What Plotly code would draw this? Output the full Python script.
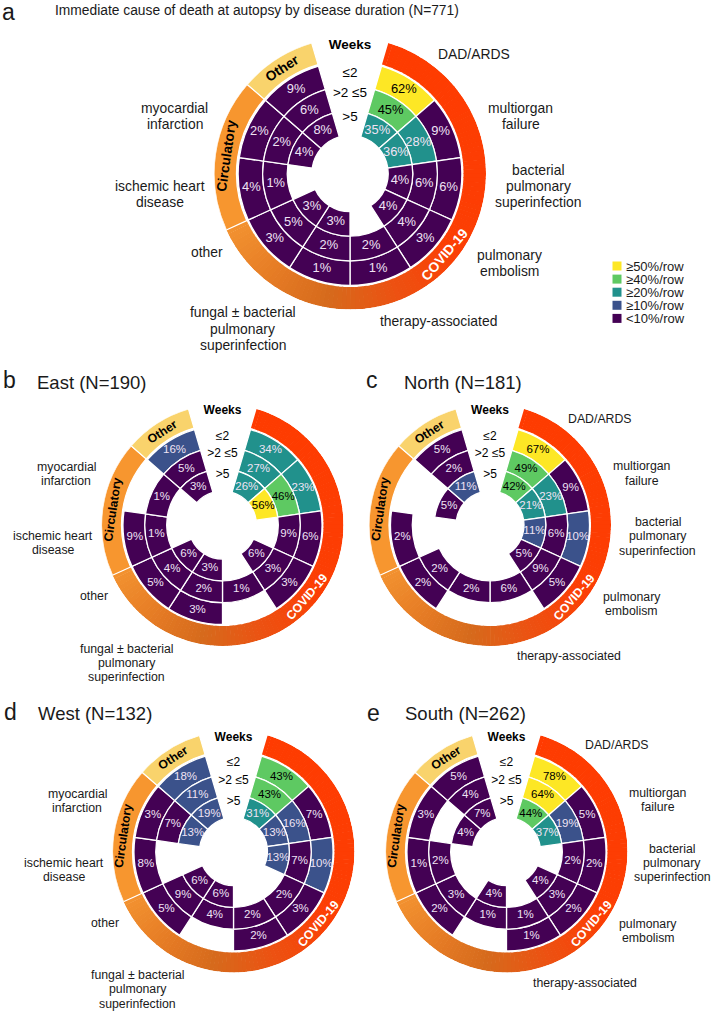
import math
import plotly.graph_objects as go

# ---------------- data ----------------
categories = ["DAD/ARDS", "multiorgan failure", "bacterial pulmonary superinfection",
              "pulmonary embolism", "therapy-associated",
              "fungal ± bacterial pulmonary superinfection", "other",
              "ischemic heart disease", "myocardial infarction", "Other"]
category_labels = ["DAD/ARDS", "multiorgan<br>failure", "bacterial<br>pulmonary<br>superinfection",
                   "pulmonary<br>embolism", "therapy-associated",
                   "fungal ± bacterial<br>pulmonary<br>superinfection", "other",
                   "ischemic heart<br>disease", "myocardial<br>infarction", "Other"]
week_rows = ["≤2", ">2 ≤5", ">5"]
group_names = ["COVID-19", "Circulatory", "Other"]

# percent per row (weeks <=2, >2<=5, >5), in category order; 0 = no cell
all_w2 = [62, 9, 6, 3, 1, 1, 3, 4, 2, 9]
all_w5 = [45, 28, 6, 4, 2, 2, 5, 1, 2, 6]
all_gt5 = [35, 36, 4, 4, 0, 3, 3, 0, 4, 8]

east_w2 = [34, 23, 6, 3, 0, 3, 5, 9, 0, 16]
east_w5 = [27, 46, 9, 3, 1, 2, 4, 1, 1, 5]
east_gt5 = [26, 56, 0, 6, 0, 3, 6, 0, 0, 3]

north_w2 = [67, 9, 10, 5, 0, 0, 2, 2, 0, 5]
north_w5 = [49, 23, 6, 9, 6, 2, 2, 0, 0, 2]
north_gt5 = [42, 21, 11, 5, 0, 0, 0, 0, 5, 11]

west_w2 = [43, 7, 10, 3, 2, 0, 5, 8, 3, 18]
west_w5 = [43, 16, 7, 2, 2, 4, 9, 0, 7, 11]
west_gt5 = [31, 13, 13, 0, 0, 6, 6, 0, 13, 19]

south_w2 = [78, 5, 2, 2, 1, 0, 2, 1, 3, 5]
south_w5 = [64, 19, 2, 3, 1, 1, 3, 2, 0, 4]
south_gt5 = [44, 37, 0, 4, 0, 4, 0, 0, 4, 7]

legend_labels = ["≥50%/row", "≥40%/row", "≥20%/row", "≥10%/row", "<10%/row"]
legend_thresholds = [50, 40, 20, 10, 0]

# ---------------- styling ----------------
W_PX, H_PX = 714, 1011
FONT = "Liberation Sans, Arial, sans-serif"
BIN_COLORS = ["#FDE725", "#5EC962", "#21918C", "#3B528B", "#440154"]
LIGHT_TXT = "#EFE3F4"
TXT = "#1a1a1a"
SECTOR = 360.0 / 11
R_DATA = 121.0
RING_BOUNDS = [34.0, 55.8, 77.7, 99.5]
BAND = (101.0, 121.0)
GROUP_SPAN = {"COVID-19": (0, 7), "Circulatory": (7, 9), "Other": (9, 10)}
GROUP_COLOR = {"Circulatory": "#F7962F", "Other": "#F9D36C"}
COVID_STOPS = [(0, (255, 59, 0)), (125, (252, 62, 4)), (160, (236, 82, 18)),
               (190, (214, 106, 28)), (215, (228, 122, 36)), (246, (243, 146, 48))]

# label offsets (normalised by radius) relative to centre
LBL_OFF = [(0.91, -0.88), (1.255, -0.425), (1.385, 0.095), (1.17, 0.655), (0.65, 1.085),
           (-0.79, 1.14), (-1.06, 0.587), (-1.40, 0.15), (-1.29, -0.42), None]

panels = [
    dict(letter="a", title=None, vals=(all_w2, all_w5, all_gt5), cx=350, cy=173.5, R=136,
         show=list(range(9)), override={6: (-1.054, 0.58)}),
    dict(letter="b", title="East (N=190)", vals=(east_w2, east_w5, east_gt5), cx=222.5, cy=525, R=121,
         show=[5, 6, 7, 8], override={}),
    dict(letter="c", title="North (N=181)", vals=(north_w2, north_w5, north_gt5), cx=490, cy=525, R=121,
         show=[0, 1, 2, 3, 4], override={}),
    dict(letter="d", title="West (N=132)", vals=(west_w2, west_w5, west_gt5), cx=233.5, cy=851.5, R=121,
         show=[5, 6, 7, 8], override={}),
    dict(letter="e", title="South (N=262)", vals=(south_w2, south_w5, south_gt5), cx=506.5, cy=851.5, R=121,
         show=[0, 1, 2, 3, 4], override={2: (1.37, 0.095)}),
]
letter_pos = {"a": (8.5, 12), "b": (9, 380), "c": (372, 380), "d": (10, 712), "e": (373, 713)}
title_pos = {"b": (35, 382), "c": (402, 382), "d": (36, 713.5), "e": (403, 713.5)}


def px(x):
    return x / W_PX


def py(y):
    return 1 - y / H_PX


def bin_color(v):
    for t, c in zip(legend_thresholds, BIN_COLORS):
        if v >= t:
            return c
    return BIN_COLORS[-1]


def covid_color(t):
    for (a0, c0), (a1, c1) in zip(COVID_STOPS[:-1], COVID_STOPS[1:]):
        if a0 <= t <= a1:
            f = (t - a0) / (a1 - a0)
            c = [round(c0[j] + (c1[j] - c0[j]) * f) for j in range(3)]
            return "rgb(%d,%d,%d)" % tuple(c)
    return "rgb(%d,%d,%d)" % COVID_STOPS[-1][1]


def sector_center(i):
    return SECTOR * (i + 1)


fig = go.Figure()
annotations = []
polars = {}

for k, p in enumerate(panels):
    sub = "polar" if k == 0 else "polar%d" % (k + 1)
    cx, cy, R = p["cx"], p["cy"], p["R"]
    sc = R / R_DATA
    polars[sub] = dict(
        domain=dict(x=[px(cx - R), px(cx + R)], y=[py(cy + R), py(cy - R)]),
        bgcolor="rgba(0,0,0,0)",
        radialaxis=dict(range=[0, R_DATA], visible=False),
        angularaxis=dict(direction="clockwise", rotation=90, visible=False,
                         showgrid=False, showline=False, ticks=""),
        hole=0,
    )

    # --- group band: COVID gradient ---
    g0, g1 = GROUP_SPAN["COVID-19"]
    a_start = sector_center(g0) - SECTOR / 2
    a_end = sector_center(g1 - 1) + SECTOR / 2
    nseg = 115
    step = (a_end - a_start) / nseg
    th = [a_start + step * (j + 0.5) for j in range(nseg)]
    wd = [step * 1.15] * nseg
    wd[0] = wd[-1] = step
    fig.add_trace(go.Barpolar(
        theta=th, r=[BAND[1] - BAND[0]] * nseg, base=[BAND[0]] * nseg, width=wd,
        marker=dict(color=[covid_color(t) for t in th], line=dict(width=0)),
        subplot=sub, hoverinfo="skip", showlegend=False))
    # other bands
    gth, gw, gc = [], [], []
    for g in ["Circulatory", "Other"]:
        s0, s1 = GROUP_SPAN[g]
        a0 = sector_center(s0) - SECTOR / 2
        a1 = sector_center(s1 - 1) + SECTOR / 2
        gth.append((a0 + a1) / 2)
        gw.append(a1 - a0)
        gc.append(GROUP_COLOR[g])
    fig.add_trace(go.Barpolar(
        theta=gth, r=[BAND[1] - BAND[0]] * 2, base=[BAND[0]] * 2, width=gw,
        marker=dict(color=gc, line=dict(color="white", width=1.2)),
        subplot=sub, hoverinfo="skip", showlegend=False))

    # --- cells ---
    thetas, rs, bases, cols = [], [], [], []
    t_th, t_r, t_txt, t_col = [], [], [], []
    for ring, vals in enumerate(p["vals"]):
        lo = RING_BOUNDS[2 - ring]
        hi = RING_BOUNDS[3 - ring]
        for i, v in enumerate(vals):
            if v <= 0:
                continue
            thetas.append(sector_center(i))
            rs.append(hi - lo)
            bases.append(lo)
            cols.append(bin_color(v))
            t_th.append(sector_center(i))
            t_r.append((lo + hi) / 2)
            t_txt.append("%d%%" % v)
            t_col.append("black" if v >= 40 else LIGHT_TXT)
    fig.add_trace(go.Barpolar(
        theta=thetas, r=rs, base=bases, width=[SECTOR] * len(thetas),
        marker=dict(color=cols, line=dict(color="white", width=1.3)),
        subplot=sub, hoverinfo="skip", showlegend=False))
    fig.add_trace(go.Scatterpolar(
        theta=t_th, r=t_r, text=t_txt, mode="text",
        textfont=dict(color=t_col, size=round(0.095 * R, 1), family=FONT),
        subplot=sub, hoverinfo="skip", showlegend=False, cliponaxis=False))

    # --- week labels in the gap ---
    fig.add_trace(go.Scatterpolar(
        theta=[0, 0, 0, 0], r=[114, 88.5, 71, 50],
        text=["<b>Weeks</b>"] + week_rows, mode="text",
        textfont=dict(color="black", size=round(0.099 * R, 1), family=FONT),
        subplot=sub, hoverinfo="skip", showlegend=False, cliponaxis=False))

    # --- group band labels ---
    for gname, ang, col in [("Other", 327, "black"), ("Circulatory", 278.3, "black"),
                            ("COVID-19", 130.5, "white")]:
        rr = 111 * sc
        x = cx + rr * math.sin(math.radians(ang))
        y = cy - rr * math.cos(math.radians(ang))
        tang = ang - 360 if ang > 180 else ang - 180
        annotations.append(dict(
            x=px(x), y=py(y), xref="paper", yref="paper", text="<b>%s</b>" % gname,
            showarrow=False, textangle=tang, xanchor="center", yanchor="middle",
            font=dict(family=FONT, size=round(0.101 * R, 1), color=col)))

    # --- category labels (one annotation per line for tight spacing) ---
    fs = round(0.102 * R, 1)
    lh = 0.118 * R
    for i in p["show"]:
        off = p["override"].get(i, LBL_OFF[i])
        lines = category_labels[i].split("<br>")
        n = len(lines)
        for j, ln in enumerate(lines):
            yy = cy + off[1] * R + (j - (n - 1) / 2) * lh
            annotations.append(dict(
                x=px(cx + off[0] * R), y=py(yy), xref="paper", yref="paper",
                text=ln, showarrow=False, xanchor="center", yanchor="middle",
                font=dict(family=FONT, size=fs, color=TXT)))

    # --- panel letter and title ---
    lx, ly = letter_pos[p["letter"]]
    annotations.append(dict(x=px(lx), y=py(ly), xref="paper", yref="paper", text=p["letter"],
                            showarrow=False, xanchor="center", yanchor="middle",
                            font=dict(family=FONT, size=23, color=TXT)))
    if p["title"]:
        tx, ty = title_pos[p["letter"]]
        annotations.append(dict(x=px(tx), y=py(ty), xref="paper", yref="paper", text=p["title"],
                                showarrow=False, xanchor="left", yanchor="middle",
                                font=dict(family=FONT, size=18.5, color=TXT)))

# main title
annotations.append(dict(x=px(53), y=py(11), xref="paper", yref="paper",
                        text="Immediate cause of death at autopsy by disease duration (N=771)",
                        showarrow=False, xanchor="left", yanchor="middle",
                        font=dict(family=FONT, size=13.8, color=TXT)))

# legend (manual)
shapes = []
for j, (lab, col) in enumerate(zip(legend_labels, BIN_COLORS)):
    yc = 266 + j * 13.1
    shapes.append(dict(type="rect", xref="paper", yref="paper",
                       x0=px(612.5), x1=px(621.5), y0=py(yc + 4.5), y1=py(yc - 4.5),
                       fillcolor=col, line=dict(width=0)))
    annotations.append(dict(x=px(624), y=py(yc), xref="paper", yref="paper", text=lab,
                            showarrow=False, xanchor="left", yanchor="middle",
                            font=dict(family=FONT, size=13, color=TXT)))

fig.update_layout(
    width=W_PX, height=H_PX, autosize=False,
    margin=dict(l=0, r=0, t=0, b=0),
    paper_bgcolor="white", plot_bgcolor="white",
    annotations=annotations, shapes=shapes,
    **polars,
)
fig.write_html("out.html", config={"displayModeBar": False},
               post_script="document.body.style.margin='0px';")
